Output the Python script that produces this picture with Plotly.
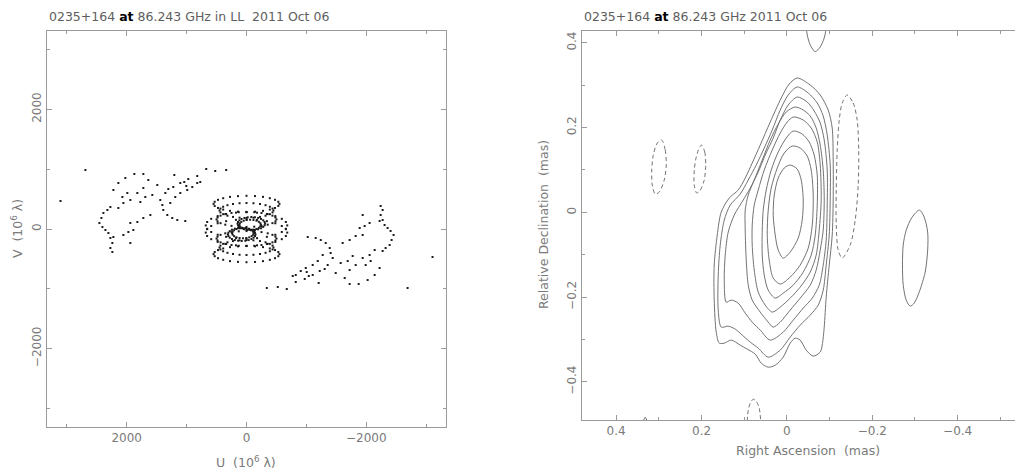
import plotly.graph_objects as go

FONT = "DejaVu Sans"

# ---------------- UV coverage (10^6 lambda) ----------------
# outer arcs (one half of the plane); the conjugate points (-u,-v) are plotted too
arc_u = [3105, 2689, 1872, 1722, 1205, 672, 522, 339, 822, 972, 1039,
         2139, 2222, 2022, 1639, 1489, 1722, 1822, 1939, 2055, 2139, 2272, 2322,
         2389, 2422, 2455, 2405, 2355, 2305, 2272, 2239, 2272, 2239,
         1439, 1405, 1389, 1322, 1239, 1155, 1022, 1272, 1189, 1105, 989, 905,
         822, 772, 1355, 1305, 1222, 1105, 1005,
         1939, 1822, 1722, 1605, 1889, 1939, 2055, 2222, 1972,
         1689, 1772, 1572, 1989, 2072]
arc_v = [468, 986, 920, 920, 903, 1003, 970, 986, 886, 836, 786,
         769, 652, 853, 819, 736, 686, 602, 485, 435, 351, 368, 318,
         268, 184, 100, 33, -17, -67, -150, -234, -318, -385,
         485, 401, 318, 234, 184, 150, 134, 435, 535, 602, 652, 702,
         769, 786, 602, 669, 702, 769, 719,
         100, 117, 184, 234, -17, -234, -100, -134, -50,
         535, 451, 568, 602, 535]

# short-baseline tracks near the centre
ring1_u = [550, 531, 476, 389, 275, 142, 0, -142, -275, -389, -476, -531,
           -550, -531, -476, -389, -275, -142, 0, 142, 275, 389, 476, 531]
ring1_v = [420, 455, 488, 515, 537, 550, 555, 550, 537, 515, 488, 455,
           420, 385, 352, 325, 303, 290, 285, 290, 303, 325, 352, 385]
ring2_u = [450, 435, 390, 318, 225, 116, 0, -116, -225, -318, -390, -435,
           -450, -435, -390, -318, -225, -116, 0, 116, 225, 318, 390, 435]
ring2_v = [310, 342, 372, 398, 418, 431, 435, 431, 418, 398, 372, 342,
           310, 278, 248, 222, 202, 189, 185, 189, 202, 222, 248, 278]
ring3_u = [680, 657, 589, 481, 340, 176, 0, -176, -340, -481, -589, -657,
           -680, -657, -589, -481, -340, -176, 0, 176, 340, 481, 589, 657]
ring3_v = [60, 117, 170, 216, 251, 273, 280, 273, 251, 216, 170, 117,
           60, 3, -50, -96, -131, -153, -160, -153, -131, -96, -50, 3]
ring4_u = [500, 483, 433, 354, 250, 129, 0, -129, -250, -354, -433, -483,
           -500, -483, -433, -354, -250, -129, 0, 129, 250, 354, 433, 483]
ring4_v = [160, 192, 223, 248, 268, 281, 285, 281, 268, 248, 223, 192,
           160, 128, 98, 72, 52, 39, 35, 39, 52, 72, 98, 128]
ring5_u = [150, 142, 119, 83, 35, -20, -80, -140, -195, -243, -279, -302,
           -310, -302, -279, -243, -195, -140, -80, -20, 35, 83, 119, 142]
ring5_v = [90, 118, 145, 168, 185, 196, 200, 196, 185, 168, 145, 118,
           90, 62, 35, 12, -5, -16, -20, -16, -5, 12, 35, 62]
ring6_u = [120, 111, 86, 46, -4, -60, -116, -166, -206, -231,
           -240, -231, -206, -166, -116, -60, -4, 46, 86, 111]
ring6_v = [70, 96, 120, 139, 151, 155, 151, 139, 120, 96,
           70, 44, 20, 1, -11, -15, -11, 1, 20, 44]

uv_u = arc_u + ring1_u + ring2_u + ring3_u + ring4_u + ring5_u + ring6_u
uv_v = arc_v + ring1_v + ring2_v + ring3_v + ring4_v + ring5_v + ring6_v
uv_u_all = uv_u + [-u for u in uv_u]
uv_v_all = uv_v + [-v for v in uv_v]

# ---------------- Clean map contours (mas) ----------------
c1_x = [-0.0241, -0.0546, -0.0780, -0.0967, -0.1061, -0.1084, -0.1084, -0.1061, -0.0991, -0.0920,
        -0.0874, -0.0827, -0.0780, -0.0616, -0.0452, -0.0311, -0.0194, -0.0077, 0.0087, 0.0274,
        0.0438, 0.0602, 0.0742, 0.0930, 0.1094, 0.1304, 0.1468, 0.1585, 0.1656, 0.1703,
        0.1703, 0.1632, 0.1539, 0.1351, 0.1141, 0.0977, 0.0813, 0.0625, 0.0391, 0.0133, -0.0054, -0.0241]
c1_y = [0.3171, 0.3006, 0.2770, 0.2415, 0.1991, 0.1235, 0.0291, -0.0536, -0.1244, -0.2000,
        -0.2708, -0.3133, -0.3298, -0.3393, -0.3251, -0.3015, -0.2968, -0.3086, -0.3417, -0.3606,
        -0.3653, -0.3558, -0.3346, -0.3228, -0.3133, -0.3015, -0.3086, -0.3086, -0.2826, -0.2071,
        -0.1244, -0.0536, 0.0007, 0.0338, 0.0527, 0.0810, 0.1164, 0.1589, 0.2132, 0.2699, 0.3029, 0.3171]
c2_x = [-0.0241, -0.0499, -0.0710, -0.0850, -0.0944, -0.1014, -0.1014, -0.0991, -0.0920, -0.0850,
        -0.0733, -0.0546, -0.0311, -0.0077, 0.0157, 0.0438, 0.0672, 0.0859, 0.1047, 0.1211,
        0.1375, 0.1539, 0.1609, 0.1609, 0.1562, 0.1468, 0.1328, 0.1094, 0.0906, 0.0719,
        0.0532, 0.0344, 0.0157, -0.0030, -0.0241]
c2_y = [0.2959, 0.2817, 0.2581, 0.2274, 0.1825, 0.1117, 0.0291, -0.0536, -0.1244, -0.1835,
        -0.2189, -0.2425, -0.2661, -0.2944, -0.3251, -0.3417, -0.3204, -0.3062, -0.2897, -0.2755,
        -0.2685, -0.2708, -0.2307, -0.1480, -0.0772, -0.0182, 0.0172, 0.0432, 0.0763, 0.1117,
        0.1518, 0.1943, 0.2415, 0.2770, 0.2959]
c3_x = [-0.0241, -0.0476, -0.0639, -0.0780, -0.0874, -0.0944, -0.0944, -0.0920, -0.0850, -0.0757,
        -0.0593, -0.0382, -0.0148, 0.0087, 0.0391, 0.0625, 0.0813, 0.0977, 0.1141, 0.1304,
        0.1422, 0.1468, 0.1445, 0.1375, 0.1234, 0.1023, 0.0859, 0.0672, 0.0508, 0.0321,
        0.0157, -0.0030, -0.0241]
c3_y = [0.2722, 0.2604, 0.2392, 0.2109, 0.1707, 0.0999, 0.0172, -0.0654, -0.1244, -0.1717,
        -0.2024, -0.2260, -0.2543, -0.2826, -0.3015, -0.2779, -0.2590, -0.2378, -0.2142, -0.2071,
        -0.2118, -0.1598, -0.1008, -0.0465, -0.0064, 0.0291, 0.0574, 0.0951, 0.1353, 0.1754,
        0.2179, 0.2533, 0.2722]
c4_x = [-0.0194, -0.0382, -0.0546, -0.0686, -0.0780, -0.0850, -0.0874, -0.0850, -0.0780, -0.0686,
        -0.0546, -0.0311, -0.0077, 0.0157, 0.0321, 0.0438, 0.0625, 0.0813, 0.0906, 0.0953,
        0.0977, 0.0977, 0.0906, 0.0766, 0.0578, 0.0391, 0.0204, 0.0016, -0.0194]
c4_y = [0.2486, 0.2415, 0.2274, 0.1991, 0.1589, 0.0999, 0.0291, -0.0418, -0.0890, -0.1362,
        -0.1717, -0.2024, -0.2307, -0.2590, -0.2708, -0.2590, -0.2354, -0.2071, -0.1717, -0.1126,
        -0.0418, 0.0054, 0.0409, 0.0763, 0.1235, 0.1707, 0.2085, 0.2368, 0.2486]
c5_x = [-0.0148, -0.0382, -0.0569, -0.0710, -0.0780, -0.0803, -0.0757, -0.0686, -0.0546, -0.0311,
        -0.0077, 0.0157, 0.0344, 0.0508, 0.0672, 0.0766, 0.0813, 0.0813, 0.0766, 0.0672,
        0.0532, 0.0344, 0.0157, -0.0007, -0.0148]
c5_y = [0.2250, 0.2179, 0.1991, 0.1660, 0.1117, 0.0291, -0.0418, -0.1008, -0.1410, -0.1764,
        -0.2024, -0.2236, -0.2354, -0.2189, -0.1882, -0.1362, -0.0772, -0.0300, 0.0172, 0.0527,
        0.0999, 0.1471, 0.1872, 0.2132, 0.2250]
c6_x = [-0.0148, -0.0358, -0.0522, -0.0639, -0.0710, -0.0710, -0.0663, -0.0569, -0.0382, -0.0148,
        0.0087, 0.0274, 0.0438, 0.0532, 0.0578, 0.0578, 0.0555, 0.0485, 0.0368, 0.0204, 0.0016, -0.0148]
c6_y = [0.1920, 0.1849, 0.1660, 0.1353, 0.0881, 0.0172, -0.0536, -0.1008, -0.1410, -0.1717,
        -0.1906, -0.2024, -0.1835, -0.1480, -0.1008, -0.0418, 0.0054, 0.0527, 0.0999, 0.1424, 0.1754, 0.1920]
c7_x = [-0.0124, -0.0311, -0.0476, -0.0569, -0.0616, -0.0593, -0.0499, -0.0311, -0.0077, 0.0157,
        0.0321, 0.0415, 0.0461, 0.0438, 0.0368, 0.0227, 0.0063, -0.0124]
c7_y = [0.1565, 0.1518, 0.1329, 0.0999, 0.0409, -0.0300, -0.0843, -0.1244, -0.1527, -0.1693,
        -0.1551, -0.1126, -0.0536, 0.0054, 0.0574, 0.1046, 0.1400, 0.1565]
c8_x = [-0.0077, -0.0241, -0.0335, -0.0382, -0.0358, -0.0265, -0.0077, 0.0087, 0.0204, 0.0274,
        0.0321, 0.0297, 0.0204, 0.0063, -0.0077]
c8_y = [0.1117, 0.1022, 0.0763, 0.0291, -0.0182, -0.0607, -0.0937, -0.1079, -0.0890, -0.0536,
        -0.0064, 0.0409, 0.0810, 0.1046, 0.1117]

# isolated positive features
p1_x = [-0.0452, -0.0476, -0.0546, -0.0663, -0.0780, -0.0874, -0.0932]
p1_y = [0.4423, 0.4187, 0.3951, 0.3792, 0.3903, 0.4116, 0.4423]
p2_x = [-0.3105, -0.3215, -0.3297, -0.3297, -0.3239, -0.3098, -0.2981, -0.2888, -0.2794, -0.2724,
        -0.2707, -0.2724, -0.2794, -0.2934, -0.3105]
p2_y = [0.0054, -0.0111, -0.0465, -0.0890, -0.1410, -0.1882, -0.2142, -0.2213, -0.2071, -0.1717,
        -0.1244, -0.0772, -0.0418, -0.0111, 0.0054]
p3_x = [0.3365, 0.3319, 0.3272]
p3_y = [-0.4928, -0.4834, -0.4928]

# negative (dashed) contours
n1_x = [-0.1412, -0.1553, -0.1646, -0.1682, -0.1670, -0.1600, -0.1482, -0.1295, -0.1201, -0.1155,
        -0.1155, -0.1178, -0.1225, -0.1295, -0.1412]
n1_y = [0.2770, 0.2581, 0.2179, 0.1471, 0.0645, -0.0182, -0.0772, -0.1079, -0.0890, -0.0300,
        0.0527, 0.1471, 0.2179, 0.2581, 0.2770]
n2_x = [0.2932, 0.2850, 0.2827, 0.2874, 0.2991, 0.3084, 0.3155, 0.3166, 0.3131, 0.3037, 0.2932]
n2_y = [0.1707, 0.1471, 0.1117, 0.0763, 0.0479, 0.0432, 0.0645, 0.0999, 0.1353, 0.1636, 0.1707]
n3_x = [0.1995, 0.1925, 0.1902, 0.1937, 0.2042, 0.2112, 0.2171, 0.2171, 0.2124, 0.2054, 0.1995]
n3_y = [0.1589, 0.1424, 0.1117, 0.0763, 0.0503, 0.0456, 0.0645, 0.0999, 0.1306, 0.1518, 0.1589]
n4_x = [0.0930, 0.0906, 0.0859, 0.0789, 0.0719, 0.0649, 0.0614]
n4_y = [-0.4928, -0.4668, -0.4503, -0.4409, -0.4456, -0.4621, -0.4928]

positive = [(c1_x, c1_y), (c2_x, c2_y), (c3_x, c3_y), (c4_x, c4_y), (c5_x, c5_y),
            (c6_x, c6_y), (c7_x, c7_y), (c8_x, c8_y), (p1_x, p1_y), (p2_x, p2_y), (p3_x, p3_y)]
negative = [(n1_x, n1_y), (n2_x, n2_y), (n3_x, n3_y), (n4_x, n4_y)]

# ---------------- figure ----------------
# the page body has an 8px margin, so the figure is 8px smaller than the window
OFF = 8
W, H = 1023 - OFF, 470 - OFF
AX = "#9a9a9a"
TXT = "#7a7a7a"
LINE = "#737373"

fig = go.Figure()
fig.add_trace(go.Scatter(x=uv_u_all, y=uv_v_all, mode="markers",
                         marker=dict(size=2, color="#1a1a1a", symbol="square", line=dict(width=0)),
                         xaxis="x", yaxis="y", hoverinfo="skip"))
for xs, ys in positive:
    fig.add_trace(go.Scatter(x=xs, y=ys, mode="lines", xaxis="x2", yaxis="y2",
                             line=dict(color=LINE, width=1, shape="spline", smoothing=0.8),
                             hoverinfo="skip"))
for xs, ys in negative:
    fig.add_trace(go.Scatter(x=xs, y=ys, mode="lines", xaxis="x2", yaxis="y2",
                             line=dict(color=LINE, width=1, shape="spline", smoothing=0.8, dash="4px,3px"),
                             hoverinfo="skip"))


def px(x):
    return (x - OFF) / W


def py(y):
    return 1 - (y - OFF) / H


tickfont = dict(family=FONT, size=12, color=TXT)
common = dict(showgrid=False, zeroline=False, showline=True, linecolor=AX, linewidth=1,
              ticks="inside", tickcolor=AX, ticklen=5, tickwidth=1, tickfont=tickfont)

fig.update_layout(
    width=W, height=H, margin=dict(l=0, r=0, t=0, b=0),
    paper_bgcolor="white", plot_bgcolor="white", showlegend=False,
    xaxis=dict(domain=[px(47), px(446)], range=[3330, -3330], anchor="y", mirror="allticks",
               tickmode="array", tickvals=[2000, 0, -2000], ticktext=["2000", "0", "\u22122000"],
               minor=dict(tickvals=[3000, 1000, -1000, -3000], ticks="inside", ticklen=3, tickcolor=AX),
               **common),
    yaxis=dict(domain=[py(427), py(31)], range=[-3310, 3310], anchor="x", mirror="allticks",
               tickmode="array", tickvals=[-2000, 0, 2000], ticktext=["\u22122000", "0", "2000"],
               tickangle=-90,
               minor=dict(tickvals=[-3000, -1000, 1000, 3000], ticks="inside", ticklen=3, tickcolor=AX),
               **common),
    xaxis2=dict(domain=[px(582), 1.0], range=[0.48, -0.553], anchor="y2", mirror="allticks",
                tickmode="array", tickvals=[0.4, 0.2, 0, -0.2, -0.4],
                ticktext=["0.4", "0.2", "0", "\u22120.2", "\u22120.4"],
                minor=dict(tickvals=[0.3, 0.1, -0.1, -0.3, -0.5], ticks="inside", ticklen=3, tickcolor=AX),
                **common),
    yaxis2=dict(domain=[py(420), py(31)], range=[-0.49, 0.428], anchor="x2", mirror=False,
                tickmode="array", tickvals=[-0.4, -0.2, 0, 0.2, 0.4],
                ticktext=["\u22120.4", "\u22120.2", "0", "0.2", "0.4"], tickangle=-90,
                minor=dict(tickvals=[-0.3, -0.1, 0.1, 0.3], ticks="inside", ticklen=3, tickcolor=AX),
                **common),
)

lab = dict(family=FONT, size=12.5, color=TXT)
tit = dict(family=FONT, size=12.5, color="#5e5e5e")
AT = "<b><span style='color:#000000'>at</span></b>"
ann = [
    dict(x=px(47), y=py(17), text="0235+164 " + AT + " 86.243 GHz in LL\u00a0 2011 Oct 06",
         xanchor="left", yanchor="middle", font=tit),
    dict(x=px(582), y=py(17), text="0235+164 " + AT + " 86.243 GHz 2011 Oct 06",
         xanchor="left", yanchor="middle", font=tit),
    dict(x=px(246), y=py(462), text="U\u00a0 (10<sup>6</sup> \u03bb)", xanchor="center", yanchor="middle", font=lab),
    dict(x=px(17), y=py(229), text="V\u00a0 (10<sup>6</sup> \u03bb)", textangle=-90,
         xanchor="center", yanchor="middle", font=lab),
    dict(x=px(808), y=py(450), text="Right Ascension\u00a0 (mas)", xanchor="center", yanchor="middle", font=lab),
    dict(x=px(543), y=py(225), text="Relative Declination\u00a0 (mas)", textangle=-90,
         xanchor="center", yanchor="middle", font=lab),
]
for a in ann:
    a.update(xref="paper", yref="paper", showarrow=False)
fig.update_layout(annotations=ann)

fig.write_html("out.html")
